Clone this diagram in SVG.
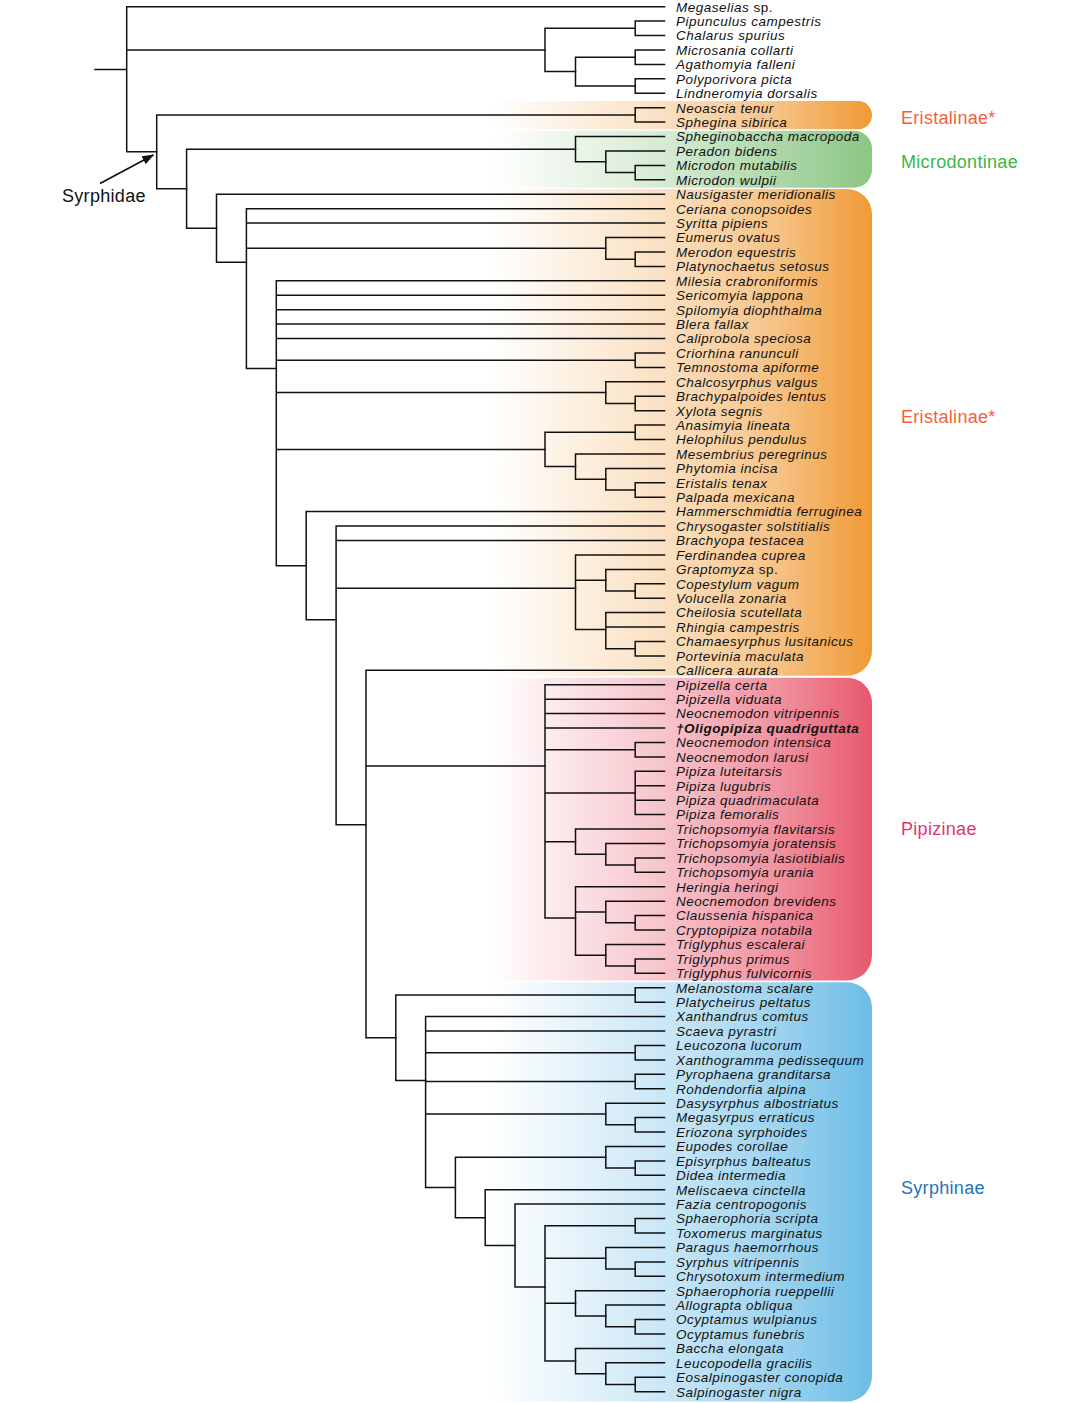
<svg xmlns="http://www.w3.org/2000/svg" width="1081" height="1403" viewBox="0 0 1081 1403">
<style>
.tx{font-family:"Liberation Sans",Arial,Helvetica,sans-serif;font-size:13.5px;font-style:italic;letter-spacing:0.5px;fill:#111}
.gl{font-family:"Liberation Sans",Arial,Helvetica,sans-serif;font-size:18px;letter-spacing:0.3px}
.br{fill:none;stroke:#111;stroke-width:1.5;stroke-linecap:square}
</style>
<defs>
<linearGradient id="gO" gradientUnits="userSpaceOnUse" x1="490" y1="0" x2="872" y2="0">
<stop offset="0" stop-color="#F09A35" stop-opacity="0"/>
<stop offset="0.45" stop-color="#F09A35" stop-opacity="0.3"/>
<stop offset="0.75" stop-color="#F09A35" stop-opacity="0.6"/>
<stop offset="1" stop-color="#F09A35" stop-opacity="1"/>
</linearGradient>
<linearGradient id="gG" gradientUnits="userSpaceOnUse" x1="490" y1="0" x2="872" y2="0">
<stop offset="0" stop-color="#8CC684" stop-opacity="0"/>
<stop offset="0.45" stop-color="#8CC684" stop-opacity="0.35"/>
<stop offset="0.75" stop-color="#8CC684" stop-opacity="0.7"/>
<stop offset="1" stop-color="#8CC684" stop-opacity="1"/>
</linearGradient>
<linearGradient id="gR" gradientUnits="userSpaceOnUse" x1="490" y1="0" x2="872" y2="0">
<stop offset="0" stop-color="#E8586C" stop-opacity="0"/>
<stop offset="0.45" stop-color="#E8586C" stop-opacity="0.35"/>
<stop offset="0.75" stop-color="#E8586C" stop-opacity="0.65"/>
<stop offset="1" stop-color="#E8586C" stop-opacity="1"/>
</linearGradient>
<linearGradient id="gB" gradientUnits="userSpaceOnUse" x1="490" y1="0" x2="872" y2="0">
<stop offset="0" stop-color="#6BBCE6" stop-opacity="0"/>
<stop offset="0.45" stop-color="#6BBCE6" stop-opacity="0.35"/>
<stop offset="0.75" stop-color="#6BBCE6" stop-opacity="0.65"/>
<stop offset="1" stop-color="#6BBCE6" stop-opacity="1"/>
</linearGradient>
<marker id="ah" viewBox="0 0 12 9" refX="11" refY="4.5" markerWidth="12" markerHeight="9" markerUnits="userSpaceOnUse" orient="auto">
<path d="M0,0 L12,4.5 L0,9 Z" fill="#111"/>
</marker>
</defs>
<rect width="1081" height="1403" fill="#fff"/>
<g id="bands">
<path d="M490 101 H857.85 A14.15 14.15 0 0 1 857.85 129.3 H490 Z" fill="url(#gO)"/>
<path d="M490 130.7 H854 A18 18 0 0 1 872 148.7 V169.7 A18 18 0 0 1 854 187.7 H490 Z" fill="url(#gG)"/>
<path d="M490 189 H847 A25 25 0 0 1 872 214 V650.7 A25 25 0 0 1 847 675.7 H490 Z" fill="url(#gO)"/>
<path d="M490 677.7 H847 A25 25 0 0 1 872 702.7 V955.5 A25 25 0 0 1 847 980.5 H490 Z" fill="url(#gR)"/>
<path d="M490 982.3 H847 A25 25 0 0 1 872 1007.3 V1376.5 A25 25 0 0 1 847 1401.5 H490 Z" fill="url(#gB)"/>
</g>
<g id="connectors" class="br">
<path d="M95 69.5H126.7 M126.7 6.7V151.8 M126.7 6.7H664.5 M126.7 49.95H545 M126.7 151.8H156.7"/>
<path d="M545 28.3V71.6 M545 28.3H635.2 M545 71.6H575.5"/>
<path d="M635.2 21.1V35.5 M635.2 21.1H664.5 M635.2 35.5H664.5"/>
<path d="M575.5 57.2V86.05 M575.5 57.2H635.2 M575.5 86.05H635.2"/>
<path d="M635.2 50V64.4 M635.2 50H664.5 M635.2 64.4H664.5"/>
<path d="M635.2 78.8V93.3 M635.2 78.8H664.5 M635.2 93.3H664.5"/>
<path d="M156.7 114.9V188.69 M156.7 114.9H635.2 M156.7 188.69H186.6"/>
<path d="M635.2 107.7V122.1 M635.2 107.7H664.5 M635.2 122.1H664.5"/>
<path d="M186.6 149.15V228.23 M186.6 149.15H575.5 M186.6 228.23H216.5"/>
<path d="M575.5 136.5V161.8 M575.5 136.5H664.5 M575.5 161.8H605.8"/>
<path d="M605.8 151V172.6 M605.8 151H664.5 M605.8 172.6H635.2"/>
<path d="M635.2 165.4V179.8 M635.2 165.4H664.5 M635.2 179.8H664.5"/>
<path d="M216.5 194.3V262.16 M216.5 194.3H664.5 M216.5 262.16H246.4"/>
<path d="M246.4 208.7V368.48 M246.4 208.7H664.5 M246.4 223.1H664.5 M246.4 248.35H605.8 M246.4 368.48H276.3"/>
<path d="M605.8 237.5V259.2 M605.8 237.5H664.5 M605.8 259.2H635.2"/>
<path d="M635.2 252V266.4 M635.2 252H664.5 M635.2 266.4H664.5"/>
<path d="M276.3 280.8V565.74 M276.3 280.8H664.5 M276.3 295.2H664.5 M276.3 309.7H664.5 M276.3 324.1H664.5 M276.3 338.5H664.5 M276.3 360.2H635.2 M276.3 392.6H605.8 M276.3 449.45H545 M276.3 565.74H306.2"/>
<path d="M635.2 353V367.4 M635.2 353H664.5 M635.2 367.4H664.5"/>
<path d="M605.8 381.8V403.45 M605.8 381.8H664.5 M605.8 403.45H635.2"/>
<path d="M635.2 396.2V410.7 M635.2 396.2H664.5 M635.2 410.7H664.5"/>
<path d="M545 432.3V466.6 M545 432.3H635.2 M545 466.6H575.5"/>
<path d="M635.2 425.1V439.5 M635.2 425.1H664.5 M635.2 439.5H664.5"/>
<path d="M575.5 454V479.2 M575.5 454H664.5 M575.5 479.2H605.8"/>
<path d="M605.8 468.4V490 M605.8 468.4H664.5 M605.8 490H635.2"/>
<path d="M635.2 482.8V497.2 M635.2 482.8H664.5 M635.2 497.2H664.5"/>
<path d="M306.2 511.6V619.87 M306.2 511.6H664.5 M306.2 619.87H336.1"/>
<path d="M336.1 526.1V824.68 M336.1 526.1H664.5 M336.1 540.5H664.5 M336.1 588.19H575.5 M336.1 824.68H366"/>
<path d="M575.5 554.9V629.47 M575.5 554.9H664.5 M575.5 580.2H605.8 M575.5 629.47H605.8"/>
<path d="M605.8 569.4V591 M605.8 569.4H664.5 M605.8 591H635.2"/>
<path d="M635.2 583.8V598.2 M635.2 583.8H664.5 M635.2 598.2H664.5"/>
<path d="M605.8 612.6V648.7 M605.8 612.6H664.5 M605.8 627.1H664.5 M605.8 648.7H635.2"/>
<path d="M635.2 641.5V655.9 M635.2 641.5H664.5 M635.2 655.9H664.5"/>
<path d="M366 670.3V1037.74 M366 670.3H664.5 M366 765.99H545 M366 1037.74H395.8"/>
<path d="M545 684.8V918 M545 684.8H664.5 M545 699.2H664.5 M545 713.6H664.5 M545 728H664.5 M545 749.7H635.2 M545 792.98H635.2 M545 841.65H575.5 M545 918H575.5"/>
<path d="M635.2 742.5V756.9 M635.2 742.5H664.5 M635.2 756.9H664.5"/>
<path d="M635.2 771.3V814.6 M635.2 771.3H664.5 M635.2 785.8H664.5 M635.2 800.2H664.5 M635.2 814.6H664.5"/>
<path d="M575.5 829V854.3 M575.5 829H664.5 M575.5 854.3H605.8"/>
<path d="M605.8 843.5V865.1 M605.8 843.5H664.5 M605.8 865.1H635.2"/>
<path d="M635.2 857.9V872.3 M635.2 857.9H664.5 M635.2 872.3H664.5"/>
<path d="M575.5 886.7V955.3 M575.5 886.7H664.5 M575.5 912H605.8 M575.5 955.3H605.8"/>
<path d="M605.8 901.2V922.8 M605.8 901.2H664.5 M605.8 922.8H635.2"/>
<path d="M635.2 915.6V930 M635.2 915.6H664.5 M635.2 930H664.5"/>
<path d="M605.8 944.5V966.1 M605.8 944.5H664.5 M605.8 966.1H635.2"/>
<path d="M635.2 958.9V973.3 M635.2 958.9H664.5 M635.2 973.3H664.5"/>
<path d="M395.8 994.95V1080.53 M395.8 994.95H635.2 M395.8 1080.53H425.6"/>
<path d="M635.2 987.7V1002.2 M635.2 987.7H664.5 M635.2 1002.2H664.5"/>
<path d="M425.6 1016.6V1187.45 M425.6 1016.6H664.5 M425.6 1031H664.5 M425.6 1052.65H635.2 M425.6 1081.5H635.2 M425.6 1114H605.8 M425.6 1187.45H455.4"/>
<path d="M635.2 1045.4V1059.9 M635.2 1045.4H664.5 M635.2 1059.9H664.5"/>
<path d="M635.2 1074.3V1088.7 M635.2 1074.3H664.5 M635.2 1088.7H664.5"/>
<path d="M605.8 1103.2V1124.8 M605.8 1103.2H664.5 M605.8 1124.8H635.2"/>
<path d="M635.2 1117.6V1132 M635.2 1117.6H664.5 M635.2 1132H664.5"/>
<path d="M455.4 1157.25V1217.65 M455.4 1157.25H605.8 M455.4 1217.65H485.2"/>
<path d="M605.8 1146.4V1168.1 M605.8 1146.4H664.5 M605.8 1168.1H635.2"/>
<path d="M635.2 1160.9V1175.3 M635.2 1160.9H664.5 M635.2 1175.3H664.5"/>
<path d="M485.2 1189.7V1245.6 M485.2 1189.7H664.5 M485.2 1245.6H515"/>
<path d="M515 1204.1V1287.1 M515 1204.1H664.5 M515 1287.1H545"/>
<path d="M545 1225.8V1361.03 M545 1225.8H635.2 M545 1258.25H605.8 M545 1303.33H575.5 M545 1361.03H575.5"/>
<path d="M635.2 1218.6V1233 M635.2 1218.6H664.5 M635.2 1233H664.5"/>
<path d="M605.8 1247.4V1269.1 M605.8 1247.4H664.5 M605.8 1269.1H635.2"/>
<path d="M635.2 1261.9V1276.3 M635.2 1261.9H664.5 M635.2 1276.3H664.5"/>
<path d="M575.5 1290.7V1315.95 M575.5 1290.7H664.5 M575.5 1315.95H605.8"/>
<path d="M605.8 1305.1V1326.8 M605.8 1305.1H664.5 M605.8 1326.8H635.2"/>
<path d="M635.2 1319.6V1334 M635.2 1319.6H664.5 M635.2 1334H664.5"/>
<path d="M575.5 1348.4V1373.65 M575.5 1348.4H664.5 M575.5 1373.65H605.8"/>
<path d="M605.8 1362.8V1384.5 M605.8 1362.8H664.5 M605.8 1384.5H635.2"/>
<path d="M635.2 1377.3V1391.7 M635.2 1377.3H664.5 M635.2 1391.7H664.5"/>
<path d="M100 183.5 L153.3 155" stroke-width="1.7" stroke-linecap="butt" marker-end="url(#ah)"/>
</g>
<g id="taxa" class="tx">
<g id="t00"><text x="676" y="11.5">Megaselias<tspan font-style="normal"> sp.</tspan></text></g>
<g id="t01"><text x="676" y="25.9">Pipunculus campestris</text></g>
<g id="t02"><text x="676" y="40.3">Chalarus spurius</text></g>
<g id="t03"><text x="676" y="54.8">Microsania collarti</text></g>
<g id="t04"><text x="676" y="69.2">Agathomyia falleni</text></g>
<g id="t05"><text x="676" y="83.6">Polyporivora picta</text></g>
<g id="t06"><text x="676" y="98.1">Lindneromyia dorsalis</text></g>
<g id="t07"><text x="676" y="112.5">Neoascia tenur</text></g>
<g id="t08"><text x="676" y="126.9">Sphegina sibirica</text></g>
<g id="t09"><text x="676" y="141.3">Spheginobaccha macropoda</text></g>
<g id="t10"><text x="676" y="155.8">Peradon bidens</text></g>
<g id="t11"><text x="676" y="170.2">Microdon mutabilis</text></g>
<g id="t12"><text x="676" y="184.6">Microdon wulpii</text></g>
<g id="t13"><text x="676" y="199.1">Nausigaster meridionalis</text></g>
<g id="t14"><text x="676" y="213.5">Ceriana conopsoides</text></g>
<g id="t15"><text x="676" y="227.9">Syritta pipiens</text></g>
<g id="t16"><text x="676" y="242.3">Eumerus ovatus</text></g>
<g id="t17"><text x="676" y="256.8">Merodon equestris</text></g>
<g id="t18"><text x="676" y="271.2">Platynochaetus setosus</text></g>
<g id="t19"><text x="676" y="285.6">Milesia crabroniformis</text></g>
<g id="t20"><text x="676" y="300">Sericomyia lappona</text></g>
<g id="t21"><text x="676" y="314.5">Spilomyia diophthalma</text></g>
<g id="t22"><text x="676" y="328.9">Blera fallax</text></g>
<g id="t23"><text x="676" y="343.3">Caliprobola speciosa</text></g>
<g id="t24"><text x="676" y="357.8">Criorhina ranunculi</text></g>
<g id="t25"><text x="676" y="372.2">Temnostoma apiforme</text></g>
<g id="t26"><text x="676" y="386.6">Chalcosyrphus valgus</text></g>
<g id="t27"><text x="676" y="401">Brachypalpoides lentus</text></g>
<g id="t28"><text x="676" y="415.5">Xylota segnis</text></g>
<g id="t29"><text x="676" y="429.9">Anasimyia lineata</text></g>
<g id="t30"><text x="676" y="444.3">Helophilus pendulus</text></g>
<g id="t31"><text x="676" y="458.8">Mesembrius peregrinus</text></g>
<g id="t32"><text x="676" y="473.2">Phytomia incisa</text></g>
<g id="t33"><text x="676" y="487.6">Eristalis tenax</text></g>
<g id="t34"><text x="676" y="502">Palpada mexicana</text></g>
<g id="t35"><text x="676" y="516.4">Hammerschmidtia ferruginea</text></g>
<g id="t36"><text x="676" y="530.9">Chrysogaster solstitialis</text></g>
<g id="t37"><text x="676" y="545.3">Brachyopa testacea</text></g>
<g id="t38"><text x="676" y="559.7">Ferdinandea cuprea</text></g>
<g id="t39"><text x="676" y="574.2">Graptomyza<tspan font-style="normal"> sp.</tspan></text></g>
<g id="t40"><text x="676" y="588.6">Copestylum vagum</text></g>
<g id="t41"><text x="676" y="603">Volucella zonaria</text></g>
<g id="t42"><text x="676" y="617.4">Cheilosia scutellata</text></g>
<g id="t43"><text x="676" y="631.9">Rhingia campestris</text></g>
<g id="t44"><text x="676" y="646.3">Chamaesyrphus lusitanicus</text></g>
<g id="t45"><text x="676" y="660.7">Portevinia maculata</text></g>
<g id="t46"><text x="676" y="675.1">Callicera aurata</text></g>
<g id="t47"><text x="676" y="689.6">Pipizella certa</text></g>
<g id="t48"><text x="676" y="704">Pipizella viduata</text></g>
<g id="t49"><text x="676" y="718.4">Neocnemodon vitripennis</text></g>
<g id="t50"><text x="676" y="732.8" font-weight="bold">†Oligopipiza quadriguttata</text></g>
<g id="t51"><text x="676" y="747.3">Neocnemodon intensica</text></g>
<g id="t52"><text x="676" y="761.7">Neocnemodon larusi</text></g>
<g id="t53"><text x="676" y="776.1">Pipiza luteitarsis</text></g>
<g id="t54"><text x="676" y="790.6">Pipiza lugubris</text></g>
<g id="t55"><text x="676" y="805">Pipiza quadrimaculata</text></g>
<g id="t56"><text x="676" y="819.4">Pipiza femoralis</text></g>
<g id="t57"><text x="676" y="833.8">Trichopsomyia flavitarsis</text></g>
<g id="t58"><text x="676" y="848.3">Trichopsomyia joratensis</text></g>
<g id="t59"><text x="676" y="862.7">Trichopsomyia lasiotibialis</text></g>
<g id="t60"><text x="676" y="877.1">Trichopsomyia urania</text></g>
<g id="t61"><text x="676" y="891.5">Heringia heringi</text></g>
<g id="t62"><text x="676" y="906">Neocnemodon brevidens</text></g>
<g id="t63"><text x="676" y="920.4">Claussenia hispanica</text></g>
<g id="t64"><text x="676" y="934.8">Cryptopipiza notabila</text></g>
<g id="t65"><text x="676" y="949.3">Triglyphus escalerai</text></g>
<g id="t66"><text x="676" y="963.7">Triglyphus primus</text></g>
<g id="t67"><text x="676" y="978.1">Triglyphus fulvicornis</text></g>
<g id="t68"><text x="676" y="992.5">Melanostoma scalare</text></g>
<g id="t69"><text x="676" y="1007">Platycheirus peltatus</text></g>
<g id="t70"><text x="676" y="1021.4">Xanthandrus comtus</text></g>
<g id="t71"><text x="676" y="1035.8">Scaeva pyrastri</text></g>
<g id="t72"><text x="676" y="1050.2">Leucozona lucorum</text></g>
<g id="t73"><text x="676" y="1064.7">Xanthogramma pedissequum</text></g>
<g id="t74"><text x="676" y="1079.1">Pyrophaena granditarsa</text></g>
<g id="t75"><text x="676" y="1093.5">Rohdendorfia alpina</text></g>
<g id="t76"><text x="676" y="1108">Dasysyrphus albostriatus</text></g>
<g id="t77"><text x="676" y="1122.4">Megasyrpus erraticus</text></g>
<g id="t78"><text x="676" y="1136.8">Eriozona syrphoides</text></g>
<g id="t79"><text x="676" y="1151.2">Eupodes corollae</text></g>
<g id="t80"><text x="676" y="1165.7">Episyrphus balteatus</text></g>
<g id="t81"><text x="676" y="1180.1">Didea intermedia</text></g>
<g id="t82"><text x="676" y="1194.5">Meliscaeva cinctella</text></g>
<g id="t83"><text x="676" y="1208.9">Fazia centropogonis</text></g>
<g id="t84"><text x="676" y="1223.4">Sphaerophoria scripta</text></g>
<g id="t85"><text x="676" y="1237.8">Toxomerus marginatus</text></g>
<g id="t86"><text x="676" y="1252.2">Paragus haemorrhous</text></g>
<g id="t87"><text x="676" y="1266.7">Syrphus vitripennis</text></g>
<g id="t88"><text x="676" y="1281.1">Chrysotoxum intermedium</text></g>
<g id="t89"><text x="676" y="1295.5">Sphaerophoria rueppellii</text></g>
<g id="t90"><text x="676" y="1309.9">Allograpta obliqua</text></g>
<g id="t91"><text x="676" y="1324.4">Ocyptamus wulpianus</text></g>
<g id="t92"><text x="676" y="1338.8">Ocyptamus funebris</text></g>
<g id="t93"><text x="676" y="1353.2">Baccha elongata</text></g>
<g id="t94"><text x="676" y="1367.6">Leucopodella gracilis</text></g>
<g id="t95"><text x="676" y="1382.1">Eosalpinogaster conopida</text></g>
<g id="t96"><text x="676" y="1396.5">Salpinogaster nigra</text></g>
</g>
<g id="labels" class="gl">
<g id="lab-eristalinae1"><text x="901" y="123.5" fill="#F1623A">Eristalinae*</text></g>
<g id="lab-microdontinae"><text x="901" y="167.5" fill="#3CB54A">Microdontinae</text></g>
<g id="lab-eristalinae2"><text x="901" y="423" fill="#F1623A">Eristalinae*</text></g>
<g id="lab-pipizinae"><text x="901" y="835" fill="#E6336E">Pipizinae</text></g>
<g id="lab-syrphinae"><text x="901" y="1194" fill="#1C75BC">Syrphinae</text></g>
<g id="lab-syrphidae"><text x="62" y="202" fill="#111">Syrphidae</text></g>
</g>
</svg>
